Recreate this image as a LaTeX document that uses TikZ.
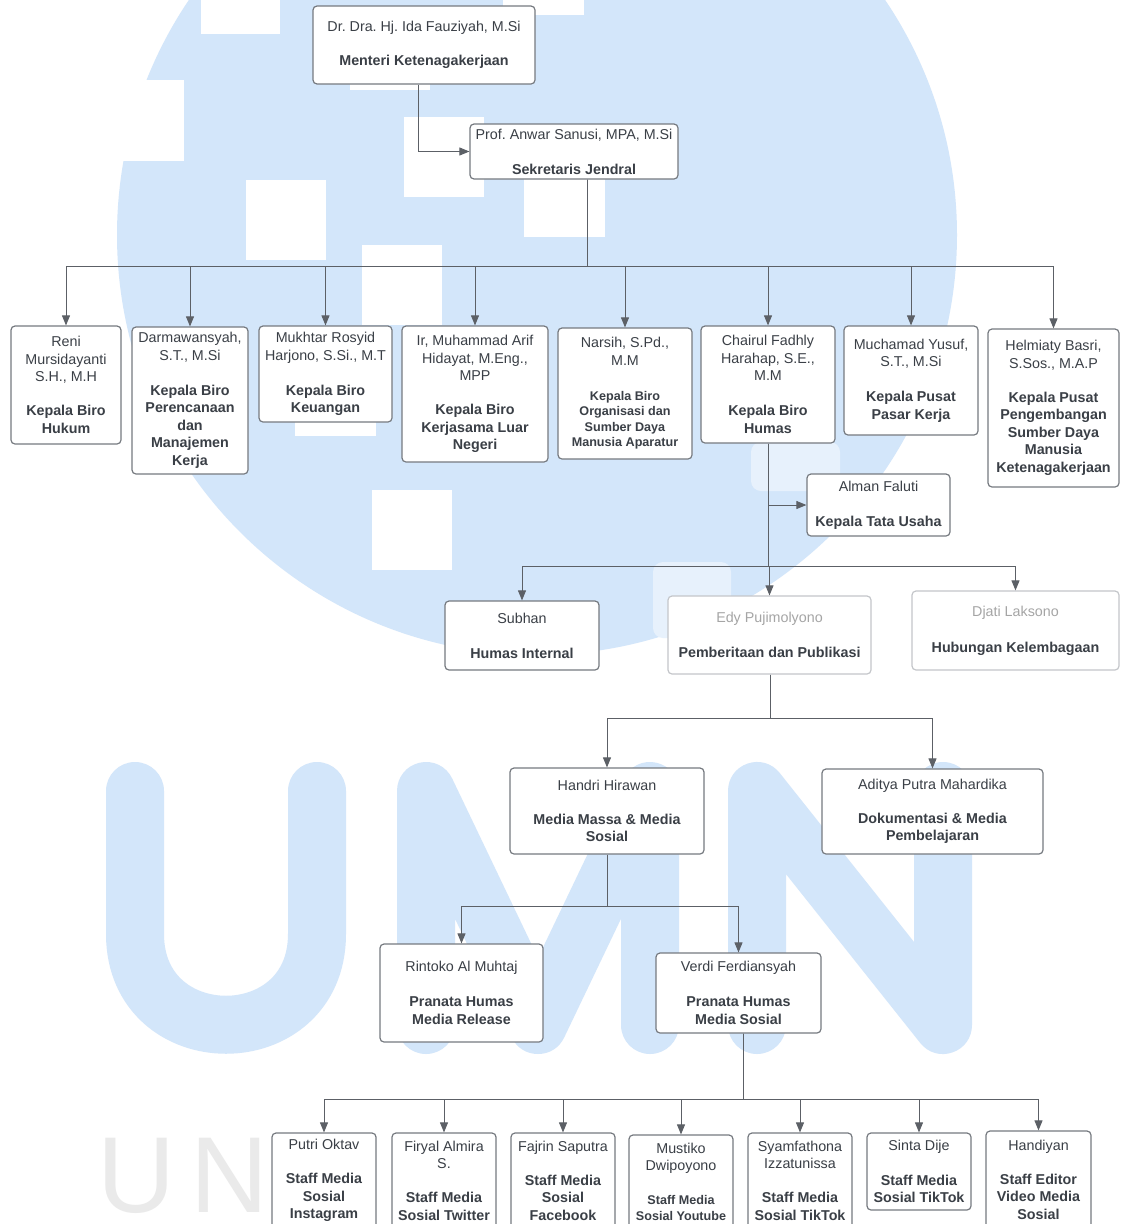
\documentclass[tikz,border=0pt]{standalone}
\usepackage{fontspec}
\setmainfont{Liberation Sans}
\usetikzlibrary{arrows.meta, backgrounds}
\frenchspacing

\definecolor{boxline}{RGB}{118,122,128}
\definecolor{boxpale}{RGB}{196,198,202}
\definecolor{txt}{RGB}{58,63,70}
\definecolor{paletxt}{RGB}{165,165,165}
\definecolor{lnk}{RGB}{92,96,102}
\definecolor{wm}{RGB}{211,230,250}
\definecolor{wmpale}{RGB}{231,241,252}
\definecolor{wmgray}{RGB}{234,234,234}

\newcommand{\smallbf}[1]{{\fontsize{12.6}{15.5}\selectfont\bfseries #1}}

\begin{document}
\begin{tikzpicture}[x=1pt, y=-1pt,
  box/.style={draw=boxline, line width=1.2pt, rounded corners=4pt, fill=white,
              align=center, inner sep=0pt, text=txt,
              font=\fontsize{14.3}{17.5}\selectfont},
  arr/.style={-{Triangle[length=10pt, width=8pt]}, draw=lnk, line width=0.9pt},
]
  \useasboundingbox (0,0) rectangle (1120,1224);

  % Top
  \node[box, minimum width=222pt, minimum height=78pt] (menteri) at (424,45)
        {Dr. Dra. Hj. Ida Fauziyah, M.Si\\[16.5pt]\textbf{Menteri Ketenagakerjaan}};
  \node[box, minimum width=208pt, minimum height=55pt] (sekjen) at (574,151.5)
        {Prof. Anwar Sanusi, MPA, M.Si\\[17.5pt]\textbf{Sekretaris Jendral}};

  % Biro row
  \node[box, minimum width=110pt, minimum height=118pt] (hukum) at (66,385)
        {Reni\\Mursidayanti\\S.H., M.H\\[16.5pt]\textbf{Kepala Biro}\\\textbf{Hukum}};
  \node[box, minimum width=116pt, minimum height=147pt] (renc) at (190,400.5)
        {Darmawansyah,\\S.T., M.Si\\[17.5pt]\textbf{Kepala Biro}\\\textbf{Perencanaan}\\\textbf{dan}\\\textbf{Manajemen}\\\textbf{Kerja}};
  \node[box, minimum width=133pt, minimum height=96pt] (keu) at (325.5,374)
        {Mukhtar Rosyid\\Harjono, S.Si., M.T\\[17.5pt]\textbf{Kepala Biro}\\\textbf{Keuangan}};
  \node[box, minimum width=146pt, minimum height=136pt] (kln) at (475,394)
        {Ir, Muhammad Arif\\Hidayat, M.Eng.,\\MPP\\[16.5pt]\textbf{Kepala Biro}\\\textbf{Kerjasama Luar}\\\textbf{Negeri}};
  \node[box, minimum width=134pt, minimum height=131pt] (sdma) at (625,393.5)
        {Narsih, S.Pd.,\\M.M\\[17.5pt]\smallbf{Kepala Biro}\\[-2pt]\smallbf{Organisasi dan}\\[-2pt]\smallbf{Sumber Daya}\\[-2pt]\smallbf{Manusia Aparatur}};
  \node[box, minimum width=134pt, minimum height=117pt] (humas) at (768,384.5)
        {Chairul Fadhly\\Harahap, S.E.,\\M.M\\[17.5pt]\textbf{Kepala Biro}\\\textbf{Humas}};
  \node[box, minimum width=134pt, minimum height=109pt] (pasker) at (911,380.5)
        {Muchamad Yusuf,\\S.T., M.Si\\[17.5pt]\textbf{Kepala Pusat}\\\textbf{Pasar Kerja}};
  \node[box, minimum width=131pt, minimum height=158pt] (pusdik) at (1053.5,408)
        {Helmiaty Basri,\\S.Sos., M.A.P\\[16.5pt]\textbf{Kepala Pusat}\\\textbf{Pengembangan}\\\textbf{Sumber Daya}\\\textbf{Manusia}\\\textbf{Ketenagakerjaan}};

  % Humas
  \node[box, minimum width=143pt, minimum height=62pt] (tu) at (878.5,505)
        {Alman Faluti\\[17.5pt]\textbf{Kepala Tata Usaha}};
  \node[box, minimum width=154pt, minimum height=69pt] (humint) at (522,635.5)
        {Subhan\\[17.5pt]\textbf{Humas Internal}};
  \node[box, draw=boxpale, minimum width=203pt, minimum height=78pt] (publ) at (769.5,635)
        {\textcolor{paletxt}{Edy Pujimolyono}\\[17.5pt]\textbf{Pemberitaan dan Publikasi}};
  \node[box, draw=boxpale, minimum width=207pt, minimum height=79pt] (lemb) at (1015.5,630.5)
        {\textcolor{paletxt}{Djati Laksono}\\[18.5pt]\textbf{Hubungan Kelembagaan}};

  % Publikasi
  \node[box, minimum width=194pt, minimum height=86pt] (medsos) at (607,811)
        {Handri Hirawan\\[16.5pt]\textbf{Media Massa \& Media}\\\textbf{Sosial}};
  \node[box, minimum width=221pt, minimum height=85pt] (dok) at (932.5,811.5)
        {Aditya Putra Mahardika\\[16.5pt]\textbf{Dokumentasi \& Media}\\\textbf{Pembelajaran}};
  \node[box, minimum width=163pt, minimum height=98pt] (release) at (461.5,993)
        {Rintoko Al Muhtaj\\[17.5pt]\textbf{Pranata Humas}\\\textbf{Media Release}};
  \node[box, minimum width=165pt, minimum height=80pt] (pmedsos) at (738.5,993)
        {Verdi Ferdiansyah\\[17.5pt]\textbf{Pranata Humas}\\\textbf{Media Sosial}};

  % Staff
  \node[box, minimum width=104pt, minimum height=95pt] (s1) at (324,1180.5)
        {Putri Oktav\\[16.5pt]\textbf{Staff Media}\\\textbf{Sosial}\\\textbf{Instagram}};
  \node[box, minimum width=104pt, minimum height=95pt] (s2) at (444,1180.5)
        {Firyal Almira\\S.\\[16.5pt]\textbf{Staff Media}\\\textbf{Sosial Twitter}};
  \node[box, minimum width=104pt, minimum height=95pt] (s3) at (563,1180.5)
        {Fajrin Saputra\\[16.5pt]\textbf{Staff Media}\\\textbf{Sosial}\\\textbf{Facebook}};
  \node[box, minimum width=104pt, minimum height=93pt] (s4) at (681,1181.5)
        {Mustiko\\Dwipoyono\\[16pt]\smallbf{Staff Media}\\[-1.5pt]\smallbf{Sosial Youtube}};
  \node[box, minimum width=104pt, minimum height=95pt] (s5) at (800,1180.5)
        {Syamfathona\\Izzatunissa\\[16.5pt]\textbf{Staff Media}\\\textbf{Sosial TikTok}};
  \node[box, minimum width=104pt, minimum height=77pt] (s6) at (919,1171.5)
        {Sinta Dije\\[17.5pt]\textbf{Staff Media}\\\textbf{Sosial TikTok}};
  \node[box, minimum width=105pt, minimum height=97pt] (s7) at (1038.5,1179.5)
        {Handiyan\\[16.5pt]\textbf{Staff Editor}\\\textbf{Video Media}\\\textbf{Sosial}};

  % Connectors
  \coordinate (b1) at (587,266);
  \coordinate (b2) at (768,566);
  \coordinate (b3) at (770,718);
  \coordinate (b4) at (607,906);
  \coordinate (b5) at (743,1099);

  \draw[arr] ([xshift=-6pt]menteri.south) |- (sekjen.west);
  \foreach \b in {hukum,renc,keu,kln,sdma,humas,pasker,pusdik}
    \draw[arr] (sekjen.south -| b1) -- (b1) -| (\b.north);
  \draw[arr] (humas.south) |- (tu.west);
  \foreach \b in {humint,publ,lemb}
    \draw[arr] (humas.south) -- (b2) -| (\b.north);
  \foreach \b in {medsos,dok}
    \draw[arr] (publ.south -| b3) -- (b3) -| (\b.north);
  \foreach \b in {release,pmedsos}
    \draw[arr] (medsos.south) -- (b4) -| (\b.north);
  \foreach \b in {s1,s2,s3,s4,s5,s6,s7}
    \draw[arr] (pmedsos.south -| b5) -- (b5) -| (\b.north);

  % Watermark
  \begin{scope}[on background layer]
    \fill[white] (0,0) rectangle (1120,1224);
    \fill[wm] (537,235) circle[radius=420pt];
    \foreach \xa/\ya/\xb/\yb in {201/0/280/34, 100/80/184/161, 246/180/326/260,
        404/117/484/197, 362/245/442/325, 295/340/376/436, 372/490/452/570,
        350/40/430/90, 503/0/584/15, 524/150/605/237}
      \fill[white] (\xa,\ya) rectangle (\xb,\yb);
    \fill[wmpale, rounded corners=10pt] (751,442) rectangle (840,491);
    \fill[wmpale, rounded corners=10pt] (653,562) rectangle (731,638);
    \draw[wm, line width=58pt, line cap=round, line join=round]
      (135,791) -- (135,934) .. controls (135,1055) and (317,1055) .. (317,934) -- (317,791)
      (426,1025) -- (426,791) -- (538,1025) -- (650,791) -- (650,1025)
      (757,1025) -- (757,791) -- (943,1025) -- (943,791);
    \foreach \c/\xl in {U/97, N/190}
      \node[text=wmgray, anchor=base west, inner sep=0pt,
            font=\fontsize{108}{108}\selectfont] at (\xl,1212) {\c};
  \end{scope}
\end{tikzpicture}
\end{document}
